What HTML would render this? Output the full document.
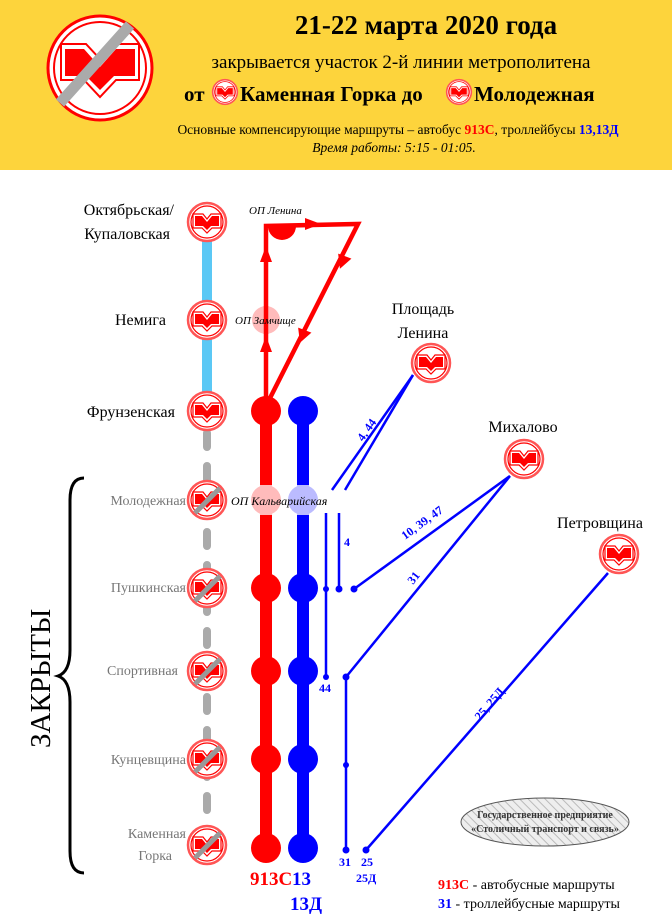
<!DOCTYPE html>
<html><head><meta charset="utf-8"><style>
html,body{margin:0;padding:0;background:#fff}
svg{display:block}
text{font-family:"Liberation Serif",serif}
</style></head><body>
<svg width="672" height="924" viewBox="0 0 672 924" xmlns="http://www.w3.org/2000/svg">
<defs>
<symbol id="m" viewBox="-20 -20 40 40" overflow="visible">
<circle r="19" fill="#fff" stroke="#f55" stroke-width="2.5"/>
<circle r="16" fill="none" stroke="#f00" stroke-width="1.2"/>
<path d="M-14,-8 L-4,-8 L0,-3 L4,-8 L14,-8 L14,6 L5,6 L0,11 L-5,6 L-14,6 Z" fill="none" stroke="#f00" stroke-width="1.2"/>
<path d="M-12,-6 L-5,-6 L0,0 L5,-6 L12,-6 L12,4 L4,4 L0,8 L-4,4 L-12,4 Z" fill="#f00"/>
</symbol>
<symbol id="mx" viewBox="-20 -20 40 40" overflow="visible">
<use href="#m" x="-20" y="-20" width="40" height="40"/>
<line x1="-12" y1="13" x2="13" y2="-12" stroke="#999" stroke-width="5"/>
</symbol>
<pattern id="hatch" width="6" height="6" patternUnits="userSpaceOnUse" patternTransform="rotate(-45)">
<rect width="6" height="6" fill="#eee"/><line x1="0" y1="0" x2="0" y2="6" stroke="#bbb" stroke-width="2"/>
</pattern>
</defs>

<!-- header -->
<rect x="0" y="0" width="672" height="170" fill="#fdd43c"/>
<circle cx="100" cy="68" r="52" fill="#fff" stroke="#f00" stroke-width="3"/>
<circle cx="100" cy="68" r="46" fill="none" stroke="#f00" stroke-width="2"/>
<path d="M61,44 L86,44 L100,59 L114,44 L139,44 L139,80 L116,80 L100,97 L84,80 L61,80 Z" fill="none" stroke="#f00" stroke-width="2"/>
<path d="M65,49 L84,49 L100,67 L116,49 L135,49 L135,76 L114,76 L100,90 L86,76 L65,76 Z" fill="#f00"/>
<line x1="60" y1="103" x2="130" y2="25" stroke="#aaa" stroke-width="11"/>

<text x="426" y="34" font-size="27" font-weight="bold" text-anchor="middle">21-22 марта 2020 года</text>
<text x="401" y="68" font-size="19" text-anchor="middle">закрывается участок 2-й линии метрополитена</text>
<text x="184" y="101" font-size="21" font-weight="bold">от</text>
<use href="#m" x="212" y="79" width="26" height="26"/>
<text x="240" y="101" font-size="21" font-weight="bold">Каменная Горка до</text>
<use href="#m" x="446" y="79" width="26" height="26"/>
<text x="474" y="101" font-size="21" font-weight="bold">Молодежная</text>
<text x="398" y="134" font-size="13.5" text-anchor="middle">Основные компенсирующие маршруты – автобус <tspan fill="#f00" font-weight="bold">913С</tspan>, троллейбусы <tspan fill="#00f" font-weight="bold">13,13Д</tspan></text>
<text x="394" y="152" font-size="13.5" font-style="italic" text-anchor="middle">Время работы: 5:15 - 01:05.</text>

<!-- metro line -->
<line x1="207" y1="222" x2="207" y2="411" stroke="#5bc8f5" stroke-width="10"/>
<line x1="207" y1="433" x2="207" y2="850" stroke="#aaa" stroke-width="8" stroke-dasharray="14,19" stroke-linecap="round"/>

<!-- red bus route -->
<path d="M266,400 L266,226 L358,224 L268,402" fill="none" stroke="#f00" stroke-width="4.5"/>
<path d="M268,226 A14,14 0 0 0 296,226 Z" fill="#f00"/>
<circle cx="266" cy="320" r="14" fill="#fbb"/>
<line x1="266" y1="306" x2="266" y2="334" stroke="#f00" stroke-width="4.5"/>
<polygon points="260,262 266,246 272,262" fill="#f00"/>
<polygon points="260,352 266,336 272,352" fill="#f00"/>
<polygon points="305,218 321,224 305,230" fill="#f00"/>
<polygon points="336,266 342,252 351,263" fill="#f00" transform="rotate(-30 343 260)"/>
<polygon points="296,340 302,326 311,337" fill="#f00" transform="rotate(-30 303 334)"/>

<line x1="266" y1="411" x2="266" y2="850" stroke="#f00" stroke-width="12"/>
<line x1="303" y1="411" x2="303" y2="850" stroke="#00f" stroke-width="12"/>
<circle cx="266" cy="500" r="15" fill="#fbb"/>
<circle cx="303" cy="500" r="15" fill="#bbf"/>
<line x1="266" y1="485" x2="266" y2="515" stroke="#fbb" stroke-width="12"/>
<line x1="303" y1="485" x2="303" y2="515" stroke="#bbf" stroke-width="12"/>
<g fill="#f00"><circle cx="266" cy="411" r="15"/><circle cx="266" cy="588" r="15"/><circle cx="266" cy="671" r="15"/><circle cx="266" cy="759" r="15"/><circle cx="266" cy="848" r="15"/></g>
<g fill="#00f"><circle cx="303" cy="411" r="15"/><circle cx="303" cy="588" r="15"/><circle cx="303" cy="671" r="15"/><circle cx="303" cy="759" r="15"/><circle cx="303" cy="848" r="15"/></g>

<!-- trolley lines -->
<g stroke="#00f" stroke-width="2.5" fill="none">
<line x1="413" y1="375" x2="332" y2="490"/>
<line x1="413" y1="375" x2="345" y2="490"/>
<line x1="326" y1="513" x2="326" y2="677"/>
<line x1="339" y1="513" x2="339" y2="589"/>
<line x1="510" y1="476" x2="354" y2="589"/>
<line x1="510" y1="476" x2="346" y2="677"/>
<line x1="346" y1="677" x2="346" y2="850"/>
<line x1="608" y1="573" x2="366" y2="850"/>
</g>
<g fill="#00f"><circle cx="326" cy="589" r="3"/><circle cx="339" cy="589" r="3.5"/><circle cx="354" cy="589" r="3.5"/><circle cx="326" cy="677" r="3"/><circle cx="346" cy="677" r="3.5"/><circle cx="346" cy="765" r="3"/><circle cx="346" cy="850" r="3.5"/><circle cx="366" cy="850" r="3.5"/></g>

<g font-size="12" font-weight="bold" fill="#00f">
<text x="363" y="442" transform="rotate(-55 363 442)">4, 44</text>
<text x="344" y="546">4</text>
<text x="405" y="540" transform="rotate(-36 405 540)">10, 39, 47</text>
<text x="413" y="585" transform="rotate(-52 413 585)">31</text>
<text x="319" y="692">44</text>
<text x="480" y="721" transform="rotate(-50 480 721)">25, 25Д</text>
<text x="339" y="866">31</text>
<text x="361" y="866">25</text>
<text x="356" y="882">25Д</text>
</g>
<text x="250" y="885" font-size="19" font-weight="bold" fill="#f00">913С</text>
<text x="292" y="885" font-size="19" font-weight="bold" fill="#00f">13</text>
<text x="290" y="910" font-size="19" font-weight="bold" fill="#00f">13Д</text>

<!-- op labels -->
<g font-size="11" font-style="italic">
<text x="249" y="214">ОП Ленина</text>
<text x="235" y="324">ОП Замчище</text>
<text x="231" y="505" font-size="12">ОП Кальварийская</text>
</g>

<!-- stations -->
<use href="#m" x="187" y="202" width="40" height="40"/>
<use href="#m" x="187" y="300" width="40" height="40"/>
<use href="#m" x="187" y="391" width="40" height="40"/>
<use href="#mx" x="187" y="480" width="40" height="40"/>
<use href="#mx" x="187" y="568" width="40" height="40"/>
<use href="#mx" x="187" y="651" width="40" height="40"/>
<use href="#mx" x="187" y="739" width="40" height="40"/>
<use href="#mx" x="187" y="825" width="40" height="40"/>
<use href="#m" x="411" y="343" width="40" height="40"/>
<use href="#m" x="504" y="439" width="40" height="40"/>
<use href="#m" x="599" y="534" width="40" height="40"/>

<g font-size="16" text-anchor="end">
<text x="174" y="215">Октябрьская/</text>
<text x="170" y="239">Купаловская</text>
<text x="166" y="325">Немига</text>
<text x="175" y="417">Фрунзенская</text>
</g>
<g font-size="14" text-anchor="end" fill="#777">
<text x="186" y="505">Молодежная</text>
<text x="186" y="592">Пушкинская</text>
<text x="178" y="675">Спортивная</text>
<text x="186" y="764">Кунцевщина</text>
<text x="186" y="838">Каменная</text>
<text x="172" y="860">Горка</text>
</g>
<g font-size="16" text-anchor="middle">
<text x="423" y="314">Площадь</text>
<text x="423" y="338">Ленина</text>
<text x="523" y="432">Михалово</text>
<text x="600" y="528">Петровщина</text>
</g>

<!-- brace -->
<path d="M84,478 Q70,478 70,500 L70,650 Q70,672 58,676 Q70,680 70,702 L70,851 Q70,873 84,873" fill="none" stroke="#000" stroke-width="3"/>
<text x="0" y="0" font-size="29" transform="translate(50 748) rotate(-90)">ЗАКРЫТЫ</text>

<!-- agency -->
<ellipse cx="545" cy="822" rx="84" ry="24" fill="url(#hatch)" stroke="#555" stroke-width="1"/>
<text x="545" y="818" font-size="10" font-weight="bold" font-family="Liberation Sans, sans-serif" text-anchor="middle" fill="#333">Государственное предприятие</text>
<text x="545" y="832" font-size="10" font-weight="bold" font-family="Liberation Sans, sans-serif" text-anchor="middle" fill="#333">«Столичный транспорт и связь»</text>

<text x="438" y="889" font-size="14"><tspan fill="#f00" font-weight="bold">913С</tspan>   - автобусные маршруты</text>
<text x="438" y="908" font-size="14"><tspan fill="#00f" font-weight="bold">31</tspan> - троллейбусные маршруты</text>
</svg>
</body></html>
